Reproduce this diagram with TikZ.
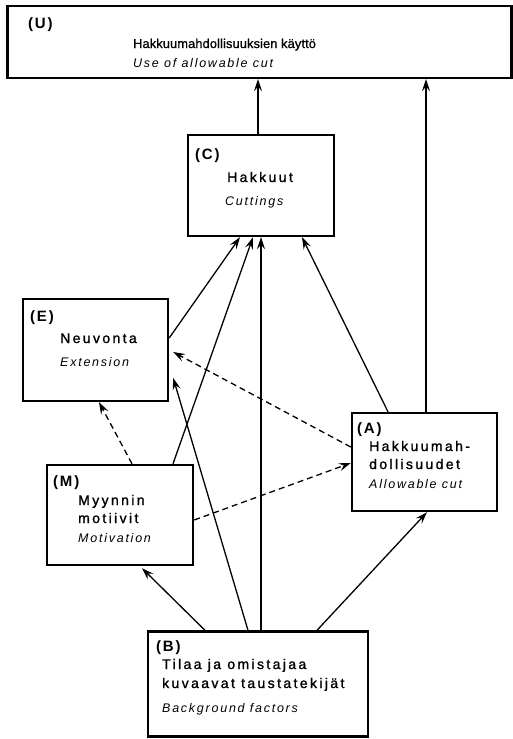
\documentclass[tikz,border=0pt]{standalone}
\usepackage{fontspec}
\setmainfont{Liberation Sans}
\newfontfamily\headfont[LetterSpace=1,FakeBold=0.9]{Liberation Sans}
\newfontfamily\finfont[LetterSpace=17,FakeBold=1.3]{Liberation Sans}
\newfontfamily\engfont[LetterSpace=14]{Liberation Sans}
\newfontfamily\tagfont[LetterSpace=12]{Liberation Sans}
\usetikzlibrary{arrows.meta}

\begin{document}
\begin{tikzpicture}[x=1pt,y=-1pt,
  box/.style={draw, line width=2.4pt, inner sep=0pt},
  link/.style={line width=1.3pt, -{Stealth[length=12pt,width=8pt,inset=4.5pt]}},
  dashlink/.style={link, dash pattern=on 6pt off 4pt},
  tag/.style={anchor=base west, inner sep=0pt, font=\tagfont\bfseries\fontsize{15}{17}\selectfont},
  head/.style={anchor=base west, inner sep=0pt, font=\headfont\fontsize{12.8}{15}\selectfont},
  fin/.style={anchor=base west, inner sep=0pt, font=\finfont\fontsize{14}{16}\selectfont},
  eng/.style={anchor=base west, inner sep=0pt, font=\engfont\itshape\fontsize{12.5}{14}\selectfont},
]
\useasboundingbox (0,0) rectangle (513,739);

% boxes
\node[box, minimum width=504pt, minimum height=72pt]  (U) at (259.5,42) {};
\node[box, minimum width=146pt, minimum height=101pt] (C) at (261,185.5) {};
\node[box, minimum width=145pt, minimum height=102pt] (E) at (95.5,350) {};
\node[box, minimum width=145pt, minimum height=98pt]  (A) at (424.5,462) {};
\node[box, minimum width=146pt, minimum height=100pt] (M) at (120,515) {};
\node[box, minimum width=220pt, minimum height=105pt] (B) at (258,684) {};

% box texts
\node[tag]  (Ut) at (28,28)   {(U)};
\node[head] (U1) at (133,48) {Hakkuumahdollisuuksien käyttö};
\node[eng]  (U2) at (133,67) {Use of allowable cut};

\node[tag]  (Ct) at (195,159) {(C)};
\node[fin]  (C1) at (227,182) {Hakkuut};
\node[eng]  (C2) at (225,205) {Cuttings};

\node[tag]  (Et) at (30,321) {(E)};
\node[fin]  (E1) at (60,343) {Neuvonta};
\node[eng]  (E2) at (60,366) {Extension};

\node[tag]  (At) at (357,433) {(A)};
\node[fin]  (A1) at (369,451) {Hakkuumah-};
\node[fin]  (A2) at (369,469) {dollisuudet};
\node[eng]  (A3) at (369,488) {Allowable cut};

\node[tag]  (Mt) at (53,486) {(M)};
\node[fin]  (M1) at (78,505) {Myynnin};
\node[fin]  (M2) at (78,523) {motiivit};
\node[eng]  (M3) at (78,542) {Motivation};

\node[tag]  (Bt) at (156,651) {(B)};
\node[fin]  (B1) at (162,669) {Tilaa ja omistajaa};
\node[fin]  (B2) at (162,688) {kuvaavat taustatekijät};
\node[eng]  (B3) at (162,712) {Background factors};

% solid connectors
\draw[link] ([xshift=-3pt]C.north) -- ([xshift=-3pt]C.north |- U.south);
\draw[link] ([xshift=1.5pt]A.north) -- ([xshift=1.5pt]A.north |- U.south);
\draw[link] ([yshift=12pt]E.east) -- ([xshift=-21pt]C.south);
\draw[link] ([xshift=53pt]M.north) -- ([xshift=-8pt]C.south);
\draw[link] (C.south |- B.north) -- (C.south);
\draw[link] ([xshift=-36.5pt]A.north) -- ([xshift=41pt]C.south);
\draw[link] ([xshift=-10pt]B.north) -- ([xshift=4pt,yshift=-28pt]E.east);
\draw[link] ([xshift=-53pt]B.north) -- ([xshift=22pt,yshift=-2pt]M.south);
\draw[link] ([xshift=59pt]B.north) -- ([xshift=2.5pt]A.south);

% dashed connectors
\draw[dashlink] ([xshift=12pt]M.north) -- ([xshift=3.5pt]E.south);
\draw[dashlink] ([yshift=15pt]A.west) -- ([xshift=4pt,yshift=-2pt]E.east);
\draw[dashlink] ([yshift=-5pt]M.east) -- ([yshift=-1pt]A.west);
\end{tikzpicture}
\end{document}
